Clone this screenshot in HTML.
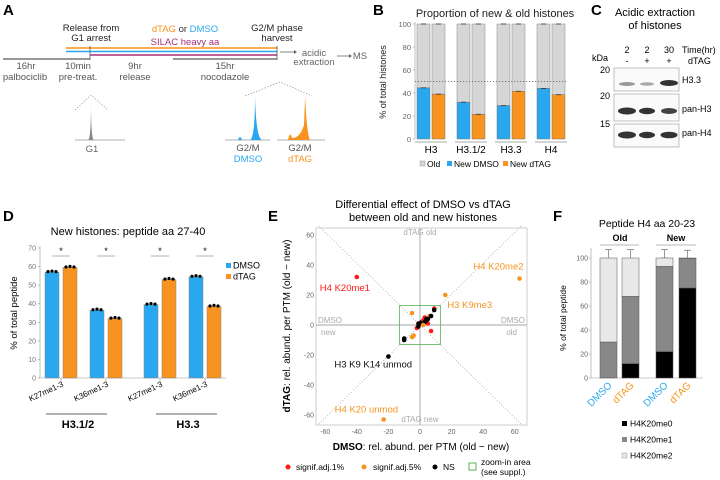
<!DOCTYPE html>
<html><head><meta charset="utf-8"><style>
body{margin:0;background:#fff;}
svg{display:block;font-family:"Liberation Sans",Arial,sans-serif;}
</style></head><body>
<svg id="fig" width="720" height="480" viewBox="0 0 720 480">
<!-- Panel A -->
<g font-size="9.5" text-anchor="middle">
<text x="3" y="15" font-size="15" font-weight="bold" text-anchor="start">A</text>
<text x="91" y="31" fill="#222">Release from</text>
<text x="91" y="41" fill="#222">G1 arrest</text>
<text x="185" y="32"><tspan fill="#f7931e">dTAG</tspan><tspan fill="#333"> or </tspan><tspan fill="#29a8f0">DMSO</tspan></text>
<text x="185" y="45" fill="#a8307a">SILAC heavy aa</text>
<text x="277" y="31" fill="#222">G2/M phase</text>
<text x="277" y="41" fill="#222">harvest</text>
<line x1="66" y1="48" x2="277" y2="48" stroke="#f7931e" stroke-width="1.6"/>
<line x1="66" y1="51.5" x2="277" y2="51.5" stroke="#29a8f0" stroke-width="1.6"/>
<line x1="90" y1="55" x2="277" y2="55" stroke="#a8307a" stroke-width="1.4"/>
<line x1="3" y1="59" x2="90" y2="59" stroke="#777" stroke-width="1.4"/>
<line x1="173" y1="59" x2="277" y2="59" stroke="#777" stroke-width="1.4"/>
<line x1="90" y1="46" x2="90" y2="60" stroke="#555" stroke-width="0.8"/>
<line x1="277" y1="46" x2="277" y2="60" stroke="#555" stroke-width="0.8"/>
<line x1="280" y1="52" x2="294" y2="52" stroke="#666" stroke-width="0.8"/><path d="M294 50 L297 52 L294 54Z" fill="#666"/>
<text x="314" y="56" fill="#666">acidic</text><text x="314" y="65" fill="#666">extraction</text>
<line x1="337" y1="56" x2="349" y2="56" stroke="#666" stroke-width="0.8"/><path d="M349 54 L352 56 L349 58Z" fill="#666"/>
<text x="360" y="59" fill="#666">MS</text>
<g fill="#555"><text x="26" y="69">16hr</text><text x="25" y="80">palbociclib</text>
<text x="78" y="69">10min</text><text x="78" y="80">pre-treat.</text>
<text x="135" y="69">9hr</text><text x="135" y="80">release</text>
<text x="225" y="69">15hr</text><text x="225" y="80">nocodazole</text></g>
<polyline points="75,110 91,95 108,110" fill="none" stroke="#888" stroke-width="0.6" stroke-dasharray="1.5,1.5"/>
<line x1="75" y1="140" x2="125" y2="140" stroke="#999" stroke-width="0.8"/>
<path d="M88 140 Q91 140 91 101 Q91 140 94 140Z" fill="#888"/>
<text x="92" y="152" fill="#666">G1</text>
<polyline points="245,96 280,82 312,96" fill="none" stroke="#888" stroke-width="0.6" stroke-dasharray="1.5,1.5"/>
<line x1="225" y1="140" x2="270" y2="140" stroke="#999" stroke-width="0.8"/>
<line x1="277" y1="140" x2="325" y2="140" stroke="#999" stroke-width="0.8"/>
<path d="M238 140 Q240 134 242 140Z M250 140 Q255 138 255 95 Q256 138 262 140Z" fill="#29a8f0"/>
<path d="M288 140 Q290 130 292 138 Q300 138 304 125 Q305 100 305 96 Q307 135 310 140Z" fill="#f7931e"/>
<text x="248" y="151" fill="#555">G2/M</text><text x="248" y="162" fill="#29a8f0">DMSO</text>
<text x="300" y="151" fill="#555">G2/M</text><text x="300" y="162" fill="#f7931e">dTAG</text>
</g>

<!-- Panel B -->
<g id="panelB">
<text x="373" y="15" font-size="15" font-weight="bold">B</text>
<text x="495" y="17" font-size="11" text-anchor="middle" fill="#222">Proportion of new &amp; old histones</text>
<text transform="translate(386,82) rotate(-90)" font-size="9" text-anchor="middle" fill="#222">% of total histones</text>
</g>

<!-- Panel C -->
<g font-size="9">
<text x="591" y="15" font-size="15" font-weight="bold">C</text>
<text x="655" y="16" font-size="11" text-anchor="middle">Acidic extraction</text>
<text x="655" y="29" font-size="11" text-anchor="middle">of histones</text>
<g text-anchor="middle"><text x="627" y="53">2</text><text x="647" y="53">2</text><text x="669" y="53">30</text>
<text x="627" y="64">-</text><text x="647" y="64">+</text><text x="669" y="64">+</text></g>
<text x="682" y="53">Time(hr)</text><text x="688" y="64">dTAG</text>
<text x="592" y="61">kDa</text>
<g text-anchor="end"><text x="610" y="73">20</text><text x="610" y="99">20</text><text x="610" y="127">15</text></g>
<rect x="614" y="68" width="65" height="23" fill="#fafafa" stroke="#999" stroke-width="0.6"/>
<rect x="614" y="94" width="65" height="27" fill="#fafafa" stroke="#999" stroke-width="0.6"/>
<rect x="614" y="124" width="65" height="23" fill="#fafafa" stroke="#999" stroke-width="0.6"/>
<g fill="#333">
<ellipse cx="627" cy="84" rx="8" ry="2" fill="#999"/><ellipse cx="647" cy="84" rx="7" ry="1.8" fill="#aaa"/><ellipse cx="669" cy="83" rx="9" ry="3" fill="#333"/>
<ellipse cx="627" cy="111" rx="9" ry="3.5"/><ellipse cx="647" cy="111" rx="8" ry="3.2"/><ellipse cx="669" cy="111" rx="8" ry="3" fill="#444"/>
<ellipse cx="627" cy="135" rx="9" ry="3.5"/><ellipse cx="647" cy="135" rx="8" ry="3.2"/><ellipse cx="669" cy="135" rx="8.5" ry="3.3"/></g>
<text x="682" y="83">H3.3</text><text x="682" y="112">pan-H3</text><text x="682" y="136">pan-H4</text>
</g>

<!-- Panel D -->
<g id="panelD">
<text x="3" y="221" font-size="15" font-weight="bold">D</text>
<text x="128" y="235" font-size="11" text-anchor="middle">New histones: peptide aa 27-40</text>
<text transform="translate(17,313) rotate(-90)" font-size="9.5" text-anchor="middle">% of total peptide</text>
<line x1="46" y1="414" x2="107" y2="414" stroke="#333" stroke-width="0.8"/>
<line x1="156" y1="414" x2="217" y2="414" stroke="#333" stroke-width="0.8"/>
<text x="78" y="428" font-size="11" font-weight="bold" text-anchor="middle">H3.1/2</text>
<text x="188" y="428" font-size="11" font-weight="bold" text-anchor="middle">H3.3</text>
<rect x="226" y="263" width="5" height="5" fill="#29a8f0"/><text x="233" y="268.5" font-size="9">DMSO</text>
<rect x="226" y="274" width="5" height="5" fill="#f7931e"/><text x="233" y="279.5" font-size="9">dTAG</text>
</g>

<!-- Panel E -->
<g id="panelE">
<text x="268" y="221" font-size="15" font-weight="bold">E</text>
<text x="423" y="208" font-size="11" text-anchor="middle">Differential effect of DMSO vs dTAG</text>
<text x="423" y="221" font-size="11" text-anchor="middle">between old and new histones</text>
<text x="421" y="450" font-size="10" text-anchor="middle"><tspan font-weight="bold">DMSO</tspan>: rel. abund. per PTM (old − new)</text>
<text transform="translate(290,326) rotate(-90)" font-size="10" text-anchor="middle"><tspan font-weight="bold">dTAG</tspan>: rel. abund. per PTM (old − new)</text>
<g font-size="8.5">
<circle cx="288" cy="467" r="2.5" fill="#ff1a1a"/><text x="296" y="470">signif.adj.1%</text>
<circle cx="364" cy="467" r="2.5" fill="#f7931e"/><text x="373" y="470">signif.adj.5%</text>
<circle cx="435" cy="467" r="2.5" fill="#000"/><text x="443" y="470">NS</text>
<rect x="469" y="463" width="7" height="7" fill="none" stroke="#55b555"/><text x="481" y="465">zoom-in area</text><text x="481" y="475">(see suppl.)</text>
</g>
</g>

<!-- Panel F -->
<g id="panelF">
<text x="553" y="221" font-size="15" font-weight="bold">F</text>
<text x="647" y="227" font-size="10.5" text-anchor="middle">Peptide H4 aa 20-23</text>
<text x="620" y="241" font-size="9" font-weight="bold" text-anchor="middle">Old</text>
<text x="676" y="241" font-size="9" font-weight="bold" text-anchor="middle">New</text>
<line x1="600" y1="245" x2="639" y2="245" stroke="#777" stroke-width="0.6"/>
<line x1="656" y1="245" x2="696" y2="245" stroke="#777" stroke-width="0.6"/>
<text transform="translate(566,318) rotate(-90)" font-size="8.5" text-anchor="middle">% of total peptide</text>
<g font-size="8.5">
<rect x="622" y="421" width="5" height="5" fill="#000"/><text x="630" y="426.5">H4K20me0</text>
<rect x="622" y="437" width="5" height="5" fill="#888"/><text x="630" y="442.5">H4K20me1</text>
<rect x="622" y="453" width="5" height="5" fill="#e8e8e8" stroke="#999" stroke-width="0.5"/><text x="630" y="458.5">H4K20me2</text>
</g>
</g>
</svg>
<script>
// ---------- Panel B data ----------
const bCategories = ["H3", "H3.1/2", "H3.3", "H4"];
const bNewDMSO = [44.5, 32, 29, 44];
const bNewDTAG = [39, 21.5, 41.5, 38.5];
const bTicks = [0, 20, 40, 60, 80, 100];
// ---------- Panel D data ----------
const dCategories = ["K27me1-3", "K36me1-3", "K27me1-3", "K36me1-3"];
const dDMSO = [57, 36.5, 39.5, 54.5];
const dDTAG = [59.5, 32, 53, 38.5];
const dTicks = [0, 10, 20, 30, 40, 50, 60, 70];
// ---------- Panel E data ----------
const eX = [-40, 63, 16, -20, -23, -5, 3, 6, 9, 9, -1, 0, 1, 2, 4, 5, 7, -2, -4, -5, -10, -10, -1, 1, 3, 4, 7, 2, -1, 5];
const eY = [32, 31, 20, -21, -63, 8, 5, 6, 11, 10, 0, 1, 2, 3, 4, 1, -4, -2, -7, -8, -9, -10, -1, 1, 2, 3, 6, 0, 1, 4];
const eSig = ["r","o","o","k","o","o","r","o","r","k","o","k","k","r","k","r","r","r","o","o","k","k","k","k","k","k","k","o","k","k"];
const eLabels = [["H4 K20me1", -40, 32, "#ff1a1a"], ["H4 K20me2", 63, 31, "#f7931e"], ["H3 K9me3", 16, 20, "#f7931e"], ["H3 K9 K14 unmod", -20, -21, "#111"], ["H4 K20 unmod", -23, -63, "#f7931e"]];
const eTicks = [-60, -40, -20, 0, 20, 40, 60];
// ---------- Panel F data ----------
const fCategories = ["DMSO", "dTAG", "DMSO", "dTAG"];
const fMe0 = [0, 12, 22, 75];
const fMe1 = [30, 56, 71, 24.5];
const fMe2 = [70, 32, 7, 0.5];

const NS = "http://www.w3.org/2000/svg";
function mk(parent, tag, attrs, text) {
  const el = document.createElementNS(NS, tag);
  for (const k in attrs) el.setAttribute(k, attrs[k]);
  if (text !== undefined) el.textContent = text;
  parent.appendChild(el);
  return el;
}
const BLUE = "#29a8f0", ORANGE = "#f7931e";

// ===== Panel B =====
(function () {
  const g = document.getElementById("panelB");
  const y = v => 139 - v * 1.15;
  const x0 = [417, 457, 497, 537];
  mk(g, "line", {x1: 415, y1: 22, x2: 415, y2: 139, stroke: "#999", "stroke-width": 0.6});
  bTicks.forEach(t => {
    const tl = mk(g, "text", {x: 411, y: y(t) + 2.8, "font-size": 7.5, "text-anchor": "end", fill: "#666"}, t);
    
    
    mk(g, "line", {x1: 413, y1: y(t), x2: 415, y2: y(t), stroke: "#999", "stroke-width": 0.6});
  });
  bCategories.forEach((c, i) => {
    [[bNewDMSO[i], BLUE, 0], [bNewDTAG[i], ORANGE, 15]].forEach(([v, col, off]) => {
      const bx = x0[i] + off;
      const old = mk(g, "rect", {x: bx, y: y(100), width: 13, height: y(v) - y(100), fill: "#d6d6d6", stroke: "#888", "stroke-width": 0.5});
      
      
      const nb = mk(g, "rect", {x: bx, y: y(v), width: 13, height: 139 - y(v), fill: col, stroke: "#777", "stroke-width": 0.5});
      
      
      mk(g, "line", {x1: bx + 4, y1: y(v), x2: bx + 9, y2: y(v), stroke: "#333", "stroke-width": 0.8});
      mk(g, "line", {x1: bx + 4, y1: y(100), x2: bx + 9, y2: y(100), stroke: "#333", "stroke-width": 0.8});
    });
    mk(g, "line", {x1: x0[i] - 2, y1: 142, x2: x0[i] + 30, y2: 142, stroke: "#555", "stroke-width": 0.6});
    const cl = mk(g, "text", {x: x0[i] + 14, y: 153, "font-size": 10, "text-anchor": "middle"}, c);
    
    
  });
  mk(g, "line", {x1: 415, y1: y(50), x2: 568, y2: y(50), stroke: "#555", "stroke-width": 0.8, "stroke-dasharray": "1.2,1.8"});
  const lg = mk(g, "g", {"font-size": 8.5});
  
  
  mk(lg, "rect", {x: 420, y: 161, width: 5, height: 5, fill: "#d6d6d6", stroke: "#888", "stroke-width": 0.4});
  mk(lg, "text", {x: 427, y: 167}, "Old");
  mk(lg, "rect", {x: 447, y: 161, width: 5, height: 5, fill: BLUE});
  mk(lg, "text", {x: 454, y: 167}, "New DMSO");
  mk(lg, "rect", {x: 503, y: 161, width: 5, height: 5, fill: ORANGE});
  mk(lg, "text", {x: 510, y: 167}, "New dTAG");
})();

// ===== Panel D =====
(function () {
  const g = document.getElementById("panelD");
  const y = v => 378 - v * 1.857;
  const x0 = [45, 90, 144, 189];
  mk(g, "line", {x1: 40, y1: 246, x2: 40, y2: 378, stroke: "#999", "stroke-width": 0.6});
  mk(g, "line", {x1: 38, y1: 378, x2: 226, y2: 378, stroke: "#999", "stroke-width": 0.6});
  dTicks.forEach(t => {
    const tl = mk(g, "text", {x: 36, y: y(t) + 2.5, "font-size": 7, "text-anchor": "end", fill: "#777"}, t);
    
    
    mk(g, "line", {x1: 38, y1: y(t), x2: 40, y2: y(t), stroke: "#999", "stroke-width": 0.6});
  });
  dCategories.forEach((c, i) => {
    [[dDMSO[i], BLUE, 0], [dDTAG[i], ORANGE, 18]].forEach(([v, col, off]) => {
      const bx = x0[i] + off;
      const b = mk(g, "rect", {x: bx, y: y(v), width: 14, height: 378 - y(v), fill: col, stroke: "#888", "stroke-width": 0.5});
      
      
      [-4, 0, 4].forEach(dx => mk(g, "circle", {cx: bx + 7 + dx, cy: y(v) - 0.5 + (dx === 0 ? -0.6 : 0), r: 1.6, fill: "#000"}));
    });
    mk(g, "text", {x: x0[i] + 16, y: 254, "font-size": 9, "text-anchor": "middle"}, "*");
    mk(g, "line", {x1: x0[i] + 7, y1: 256, x2: x0[i] + 25, y2: 256, stroke: "#666", "stroke-width": 0.5});
    mk(g, "line", {x1: x0[i] + 16, y1: 378, x2: x0[i] + 16, y2: 381, stroke: "#999", "stroke-width": 0.6});
    const cx = x0[i] + 16;
    const tl = mk(g, "text", {x: cx + 3, y: 386, "font-size": 8, "text-anchor": "end", transform: `rotate(-25 ${cx + 3} 386)`}, c);
    
    
  });
})();

// ===== Panel E =====
(function () {
  const g = document.getElementById("panelE");
  const X = v => 420 + v * 1.58;
  const Y = v => 325 - v * 1.5;
  mk(g, "rect", {x: 316, y: 228, width: 211, height: 197, fill: "#fff", stroke: "#ccc", "stroke-width": 1});
  mk(g, "line", {x1: X(0), y1: 228, x2: X(0), y2: 425, stroke: "#888", "stroke-width": 0.7});
  mk(g, "line", {x1: 316, y1: Y(0), x2: 527, y2: Y(0), stroke: "#888", "stroke-width": 0.7});
  mk(g, "line", {x1: X(-64), y1: Y(-66), x2: X(64), y2: Y(66), stroke: "#888", "stroke-width": 0.6, "stroke-dasharray": "1,2"});
  mk(g, "line", {x1: X(-64), y1: Y(66), x2: X(64), y2: Y(-66), stroke: "#888", "stroke-width": 0.6, "stroke-dasharray": "1,2"});
  const q = mk(g, "g", {"font-size": 8, fill: "#aaa"});
  mk(q, "text", {x: X(0), y: 235, "text-anchor": "middle"}, "dTAG old");
  mk(q, "text", {x: X(0), y: 422, "text-anchor": "middle"}, "dTAG new");
  mk(q, "text", {x: 318, y: Y(0) - 2}, "DMSO");
  mk(q, "text", {x: 321, y: Y(0) + 10}, "new");
  mk(q, "text", {x: 525, y: Y(0) - 2, "text-anchor": "end"}, "DMSO");
  mk(q, "text", {x: 517, y: Y(0) + 10, "text-anchor": "end"}, "old");
  eTicks.forEach(t => {
    const xl = mk(g, "text", {x: X(t), y: 434, "font-size": 7, "text-anchor": "middle", fill: "#666"}, t);
    
    
    const yl = mk(g, "text", {x: 314, y: Y(t) + 2.5, "font-size": 7, "text-anchor": "end", fill: "#666"}, t);
    
    
  });
  const zb = mk(g, "rect", {x: X(-13), y: Y(13), width: X(13) - X(-13), height: Y(-13) - Y(13), fill: "none", stroke: "#55b555", "stroke-width": 0.8});
  
  
  const col = {r: "#ff1a1a", o: "#f7931e", k: "#000"};
  eX.forEach((xv, i) => {
    const p = mk(g, "circle", {cx: X(xv), cy: Y(eY[i]), r: 2.3, fill: col[eSig[i]]});
    
    
  });
  const offs = [[-37, 14, "start"], [4, -9, "end"], [2, 13, "start"], [-54, 11, "start"], [-49, -7, "start"]];
  eLabels.forEach((l, i) => {
    const t = mk(g, "text", {x: X(l[1]) + offs[i][0], y: Y(l[2]) + offs[i][1], "font-size": 9.5, fill: l[3], "text-anchor": offs[i][2]}, l[0]);
    
    
  });
})();

// ===== Panel F =====
(function () {
  const g = document.getElementById("panelF");
  const y = v => 378 - v * 1.2;
  const x0 = [600, 622, 656, 679];
  mk(g, "line", {x1: 591, y1: 248, x2: 591, y2: 378, stroke: "#999", "stroke-width": 0.6});
  mk(g, "line", {x1: 591, y1: 378, x2: 703, y2: 378, stroke: "#999", "stroke-width": 0.6});
  [0, 20, 40, 60, 80, 100].forEach(t => {
    const tl = mk(g, "text", {x: 588, y: y(t) + 2.5, "font-size": 7, "text-anchor": "end", fill: "#666"}, t);
    
    
    mk(g, "line", {x1: 589, y1: y(t), x2: 591, y2: y(t), stroke: "#999", "stroke-width": 0.6});
  });
  fCategories.forEach((c, i) => {
    let base = 0;
    [[fMe0[i], "#000"], [fMe1[i], "#888"], [fMe2[i], "#e8e8e8"]].forEach(([v, f]) => {
      const r = mk(g, "rect", {x: x0[i], y: y(base + v), width: 17, height: v * 1.2, fill: f, stroke: "#555", "stroke-width": 0.5});
      
      
      if (v > 2) {
        mk(g, "line", {x1: x0[i] + 8.5, y1: y(base + v), x2: x0[i] + 8.5, y2: y(base + v + 7), stroke: "#555", "stroke-width": 0.6});
        mk(g, "line", {x1: x0[i] + 5, y1: y(base + v + 7), x2: x0[i] + 12, y2: y(base + v + 7), stroke: "#555", "stroke-width": 0.6});
      }
      base += v;
    });
    const cx = x0[i] + 8.5;
    const tl = mk(g, "text", {x: cx + 4, y: 386, "font-size": 10, "text-anchor": "end", fill: c === "DMSO" ? BLUE : ORANGE, transform: `rotate(-45 ${cx + 4} 386)`}, c);
    
    
  });
})();
</script>
</body></html>
